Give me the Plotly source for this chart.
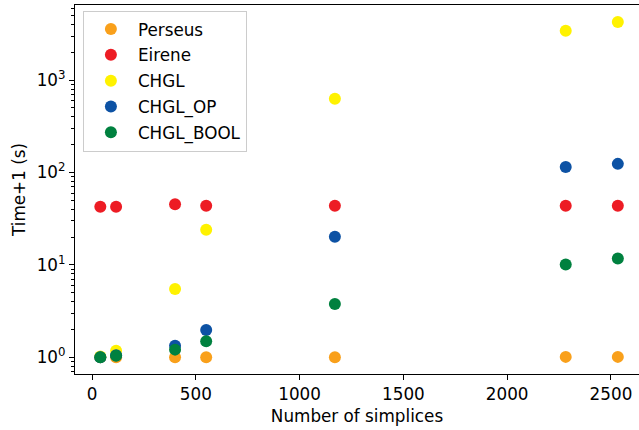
import plotly.graph_objects as go

simplices = [40, 116, 400, 550, 1170, 2282, 2533]

perseus = [1.0, 1.0, 1.0, 1.0, 1.0, 1.01, 1.01]
eirene = [42.6, 42.6, 45.3, 43.7, 43.7, 43.7, 43.7]
chgl = [1.02, 1.18, 5.48, 24.0, 629, 3427, 4254]
chgl_op = [1.0, 1.05, 1.33, 1.97, 20.2, 115, 124]
chgl_bool = [1.0, 1.04, 1.21, 1.49, 3.77, 10.1, 11.7]

series_names = ["Perseus", "Eirene", "CHGL", "CHGL_OP", "CHGL_BOOL"]
series_values = [perseus, eirene, chgl, chgl_op, chgl_bool]
series_colors = ["#F9A01B", "#ED1C24", "#FFF200", "#0D52A4", "#00813F"]

ytick_vals = [1, 10, 100, 1000]
ytick_text = ["10<sup>0</sup>", "10<sup>1</sup>", "10<sup>2</sup>", "10<sup>3</sup>"]
xtick_vals = [0, 500, 1000, 1500, 2000, 2500]

fig = go.Figure()
for name, vals, col in zip(series_names, series_values, series_colors):
    fig.add_trace(go.Scatter(
        x=simplices, y=vals, mode="markers", name=name,
        legendgroup=name,
        marker=dict(color=col, size=12, line=dict(width=0)),
    ))

FS = 16.8
font = dict(family="DejaVu Sans", size=FS, color="black")

fig.update_layout(
    width=639, height=430,
    margin=dict(l=75, r=0, t=5, b=56),
    paper_bgcolor="white", plot_bgcolor="white",
    font=font,
    showlegend=True,
    legend=dict(
        x=0.014, y=0.985, xanchor="left", yanchor="top",
        bgcolor="rgba(255,255,255,0.8)", bordercolor="#cccccc", borderwidth=1,
        font=dict(family="DejaVu Sans", size=FS, color="black"),
        tracegroupgap=1,
        itemwidth=44,
        itemsizing="constant",
    ),
    xaxis=dict(
        range=[-82, 2635],
        tickmode="array", tickvals=xtick_vals,
        ticks="outside", ticklen=5, tickwidth=1, tickcolor="black",
        showline=True, linecolor="black", linewidth=1.2, mirror=True,
        showgrid=False, zeroline=False,
        title=dict(text="Number of simplices", standoff=6, font=font),
        tickfont=font,
    ),
    yaxis=dict(
        type="log",
        range=[-0.181, 3.813],
        tickmode="array", tickvals=ytick_vals, ticktext=ytick_text,
        ticks="outside", ticklen=5, tickwidth=1, tickcolor="black",
        minor=dict(ticks="outside", ticklen=3, tickwidth=0.8, tickcolor="black",
                   dtick="D1", showgrid=False),
        showline=True, linecolor="black", linewidth=1.2, mirror=False,
        showgrid=False, zeroline=False,
        title=dict(text="Time+1 (s)", standoff=6, font=font),
        tickfont=font,
    ),
)

fig.write_html("out.html", config={"displayModeBar": False},
               post_script="document.body.style.margin='0';")
